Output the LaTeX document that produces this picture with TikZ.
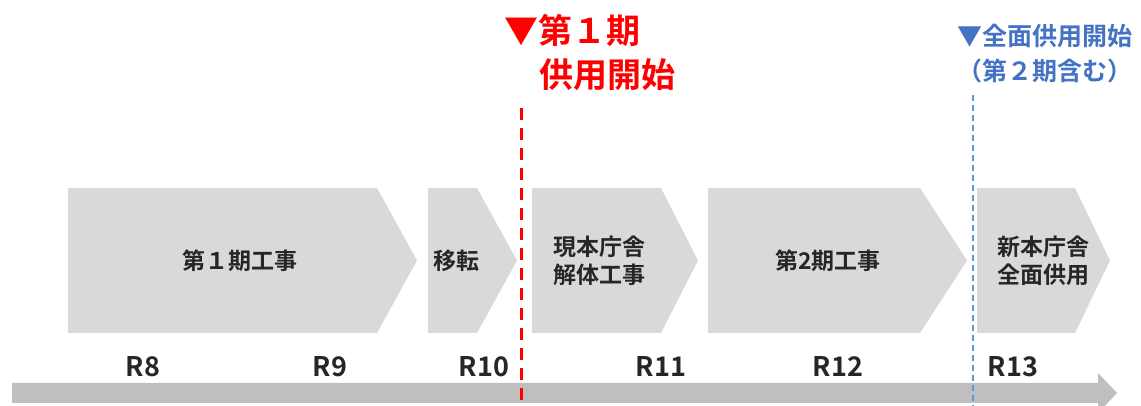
\documentclass[tikz,border=0pt]{standalone}
\usepackage{fontspec}
\setmainfont{Noto Sans CJK JP}[BoldFont={Noto Sans CJK JP Bold}]
\usepackage{tikz}
\usetikzlibrary{positioning}

\definecolor{phasegray}{HTML}{D9D9D9}
\definecolor{bargray}{HTML}{BFBFBF}
\definecolor{startred}{HTML}{FF0000}
\definecolor{fullblue}{HTML}{4472C4}
\definecolor{lineblue}{HTML}{5B9BD5}

\tikzset{
  phase/.style={fill=phasegray},
  phasetext/.style={font=\fontsize{11.5}{14}\selectfont\bfseries, text=black!85, align=center},
  yearlabel/.style={font=\fontsize{13.5}{15}\selectfont\bfseries, text=black!85},
}

\begin{document}
\begin{tikzpicture}[x=0.5pt,y=0.5pt]
\useasboundingbox (0,0) rectangle (1141,406);

% Time axis
\fill[bargray] (12,3) -- (1098,3) -- (1098,-7) -- (1117,13) -- (1098,33) -- (1098,23) -- (12,23) -- cycle;

% Phases
\fill[phase] (68,73) -- (377,73) -- (417,145.5) -- (377,218) -- (68,218) -- cycle;
\node[phasetext] (p1) at (240,145.5) {第１期工事};

\fill[phase] (428,73) -- (477,73) -- (517,145.5) -- (477,218) -- (428,218) -- cycle;
\node[phasetext] (p2) at (456,145.5) {移転};

\fill[phase] (532,73) -- (661,73) -- (698,145.5) -- (661,218) -- (532,218) -- cycle;
\node[phasetext] (p3) at (599,145.5) {現本庁舎\\解体工事};

\fill[phase] (708,73) -- (920,73) -- (967,145.5) -- (920,218) -- (708,218) -- cycle;
\node[phasetext] (p4) at (828,145.5) {第2期工事};

\fill[phase] (977,73) -- (1075,73) -- (1110,145.5) -- (1075,218) -- (977,218) -- cycle;
\node[phasetext] (p5) at (1043,145.5) {新本庁舎\\全面供用};

% Years
\foreach \yr/\x in {8/143, 9/330, 10/484, 11/661, 12/838, 13/1013}
  \node[yearlabel] (r\yr) at (\x,39) {R\yr};

% Milestones
\coordinate (redtop) at (521,298);
\coordinate (redbot) at (521,0);
\draw[startred, line width=1.5pt, dash pattern=on 6pt off 4pt] (redtop) -- (redbot);
\node[startred, anchor=west, font=\fontsize{17}{20}\selectfont\bfseries] (m1a) at (497,376) {▼第１期};
\node[startred, anchor=west, font=\fontsize{17}{20}\selectfont\bfseries] (m1b) at (532,331) {供用開始};

\coordinate (bluetop) at (973,311);
\coordinate (bluebot) at (973,0);
\draw[lineblue, line width=0.6pt, dash pattern=on 3pt off 2pt] (bluetop) -- (bluebot);
\node[fullblue, align=center, font=\fontsize{12.5}{17.5}\selectfont\bfseries] (m2) at (1045,352) {▼全面供用開始\\（第２期含む）};
\end{tikzpicture}
\end{document}
